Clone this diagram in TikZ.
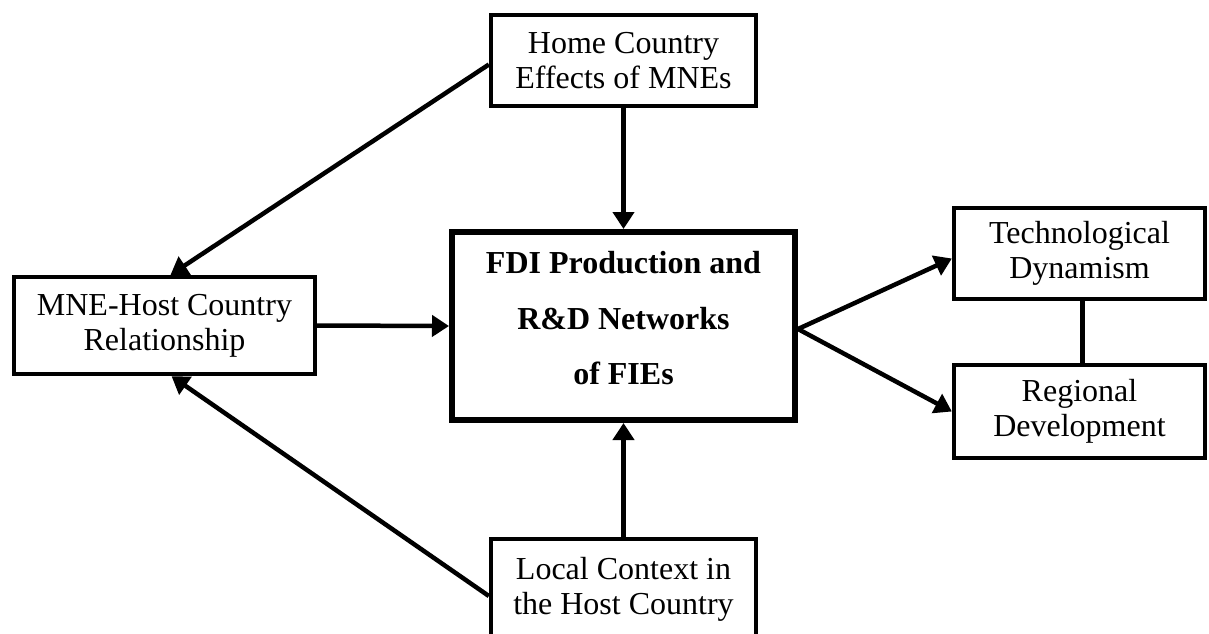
\documentclass[tikz,border=0pt]{standalone}
\usepackage{fontspec}
\setmainfont{Liberation Serif}
\usetikzlibrary{arrows.meta}
\begin{document}
\begin{tikzpicture}[x=1pt,y=-1pt,
  box/.style={draw,line width=4.3pt,align=center,inner sep=0pt,
    font=\fontsize{32}{35}\selectfont},
  mainbox/.style={draw,line width=6pt,align=center,inner sep=0pt,
    text depth=16pt,font=\fontsize{32}{55.5}\selectfont\bfseries},
  arr/.style={line width=4.5pt,-{Triangle[length=17pt,width=21pt]}},
  link/.style={line width=4.5pt}]
\useasboundingbox[fill=white] (0,0) rectangle (1209,633);

% boxes
\node[box,minimum width=265pt,minimum height=91pt] (home) at (623.5,60.5)
  {Home Country\\Effects of MNEs};
\node[box,minimum width=301pt,minimum height=97pt] (mne) at (164.5,325.5)
  {MNE-Host Country\\Relationship};
\node[mainbox,minimum width=343pt,minimum height=188pt] (fdi) at (623.5,326)
  {FDI Production and\\R\&D Networks\\of FIEs};
\node[box,minimum width=251pt,minimum height=91pt] (tech) at (1079.5,253.5)
  {Technological\\Dynamism};
\node[box,minimum width=251pt,minimum height=93pt] (reg) at (1079.5,411.5)
  {Regional\\Development};
\node[box,minimum width=265pt,minimum height=100pt] (local) at (623.5,589)
  {Local Context in\\the Host Country};

% connectors
\draw[arr] (home.south) -- (fdi.north);
\draw[arr] (local.north) -- (fdi.south);
\draw[arr] (mne.east) -- (fdi.west);
\draw[arr] ([yshift=-4pt]home.west) -- ([xshift=6pt]mne.north);
\draw[arr] ([yshift=-7pt]local.west) -- ([xshift=7pt]mne.south);
\draw[arr] ([yshift=-3pt]fdi.east) -- ([yshift=-5pt]tech.west);
\draw[arr] ([yshift=-3pt]fdi.east) -- (reg.west);
\draw[link] ([xshift=3pt]tech.south) -- ([xshift=3pt]reg.north);
\end{tikzpicture}
\end{document}
